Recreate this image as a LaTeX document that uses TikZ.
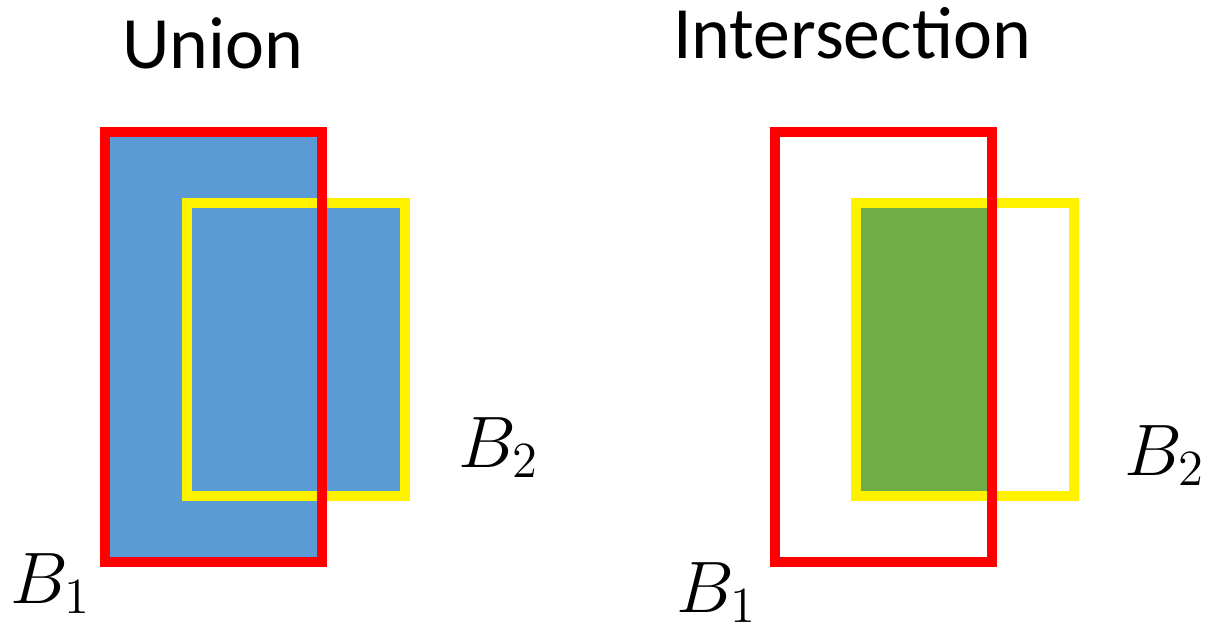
\documentclass[tikz,border=0pt]{standalone}
\usepackage{fontspec}
\setsansfont{Carlito}
\usepackage{amsmath}
\definecolor{boxblue}{HTML}{5B9BD5}
\definecolor{boxgreen}{HTML}{70AD47}
\tikzset{
  redbox/.style={draw=red,line width=2.7pt},
  yellowbox/.style={draw=yellow,line width=2.7pt},
  title/.style={font=\sffamily\fontsize{21}{25}\selectfont,inner sep=0pt,anchor=base},
  boxlabel/.style={font=\fontsize{20}{24}\selectfont,inner sep=0pt,anchor=base west}
}

\begin{document}
\begin{tikzpicture}[x=0.01cm,y=-0.01cm]
\useasboundingbox (0,0) rectangle (1208,635);

% union
\coordinate (R1a) at (105,132);
\coordinate (R1b) at (322,562);
\coordinate (Y1a) at (187,203);
\coordinate (Y1b) at (405,496);
\fill[boxblue] (R1a) rectangle (R1b);
\fill[boxblue] (Y1a) rectangle (Y1b);
\draw[yellowbox] (Y1a) rectangle (Y1b);
\draw[redbox] (R1a) rectangle (R1b);

\node[title] (U) at (213,68) {Union};
\node[boxlabel] (UB1) at (10,603) {$B_1$};
\node[boxlabel] (UB2) at (458,467) {$B_2$};

% intersection
\coordinate (R2a) at (775,132);
\coordinate (R2b) at (992,562);
\coordinate (Y2a) at (856,203);
\coordinate (Y2b) at (1074,496);
\fill[boxgreen] (Y2a) rectangle (R2b |- Y2b);
\draw[yellowbox] (Y2a) rectangle (Y2b);
\draw[redbox] (R2a) rectangle (R2b);

\node[title] (I) at (852,58) {Intersection};
\node[boxlabel] (IB1) at (676,612) {$B_1$};
\node[boxlabel] (IB2) at (1124,475) {$B_2$};

\end{tikzpicture}
\end{document}
